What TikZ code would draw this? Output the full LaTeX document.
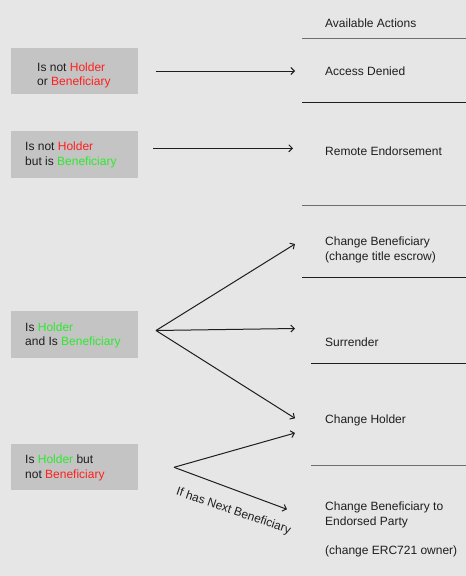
\documentclass[tikz,border=0pt]{standalone}
\usepackage{fontspec}
\setmainfont{Liberation Sans}
\usetikzlibrary{arrows.meta}
\definecolor{bg}{HTML}{E6E6E6}
\definecolor{boxc}{HTML}{C4C4C4}
\definecolor{redt}{HTML}{FF1F1F}
\definecolor{greent}{HTML}{2EE82E}
\definecolor{ink}{HTML}{1E1E1E}
\definecolor{rulegrey}{HTML}{6E6E6E}
\newcommand{\R}[1]{\textcolor{redt}{#1}}
\newcommand{\G}[1]{\textcolor{greent}{#1}}
\begin{document}
\begin{tikzpicture}[x=1pt,y=-1pt,
  every node/.style={font=\fontsize{12}{14.5}\selectfont, text=ink, inner sep=0pt},
  cond/.style={fill=boxc, anchor=north west, minimum width=127pt, minimum height=46pt},
  txt/.style={anchor=base west, align=left},
  conn/.style={-{Straight Barb[length=3.5pt,width=7pt]}, line width=1pt, draw=ink},
  rulel/.style={line width=1pt, draw=ink}]
\fill[bg] (0,0) rectangle (466,576);
\useasboundingbox (0,0) rectangle (466,576);

% condition boxes
\node[cond] (b1) at (11,48) {};
\node[cond, minimum height=47pt] (b2) at (11,130.5) {};
\node[cond, minimum height=47pt] (b3) at (11,311) {};
\node[cond] (b4) at (11,444) {};

% (base anchor of a multi-line node = baseline of its last line)
\node[txt] (t1) at (37,85.7) {Is not \R{Holder}\\or \R{Beneficiary}};
\node[txt] (t2) at (25,165.3) {Is not \R{Holder}\\but is \G{Beneficiary}};
\node[txt] (t3) at (25,345.7) {Is \G{Holder}\\and Is \G{Beneficiary}};
\node[txt] (t4) at (25,478.3) {Is \G{Holder} but\\not \R{Beneficiary}};

% action column
\node[txt] (h) at (325,27) {Available Actions};
\node[txt] (a1) at (325,75) {Access Denied};
\node[txt] (a2) at (325,155.7) {Remote Endorsement};
\node[txt] (a3) at (325,260) {Change Beneficiary\\(change title escrow)};
\node[txt] (a4) at (325,346.7) {Surrender};
\node[txt] (a5) at (325,423.3) {Change Holder};
\node[txt] (a6) at (325,554) {Change Beneficiary to\\Endorsed Party\\[14.5pt](change ERC721 owner)};

% separator rules
\draw[rulel, draw=rulegrey] (302,38) -- (466,38);
\draw[rulel] (302,102.5) -- (466,102.5);
\draw[rulel, draw=rulegrey] (302,205) -- (466,205);
\draw[rulel] (302,277) -- (466,277);
\draw[rulel] (311,363) -- (466,363);
\draw[rulel, draw=rulegrey] (311,465) -- (466,465);

% connector end points
\coordinate (s1) at (155.5,71);
\coordinate (e1) at (295,71);
\coordinate (s2) at (153,148.3);
\coordinate (e2) at (293,148.3);
\coordinate (s3) at (156,330.5);
\coordinate (e3a) at (295,244);
\coordinate (e3b) at (295,328.5);
\coordinate (e3c) at (295,418.3);
\coordinate (s4) at (174,467.3);
\coordinate (e4a) at (295,433);
\coordinate (e4b) at (287,509.3);

\draw[conn] (s1) -- (e1);
\draw[conn] (s2) -- (e2);
\draw[conn] (s3) -- (e3a);
\draw[conn] (s3) -- (e3b);
\draw[conn] (s3) -- (e3c);
\draw[conn] (s4) -- (e4a);
\draw[conn] (s4) -- (e4b);
\node[rotate=-19] (lbl) at (233.5,511.5) {If has Next Beneficiary};
\end{tikzpicture}
\end{document}
